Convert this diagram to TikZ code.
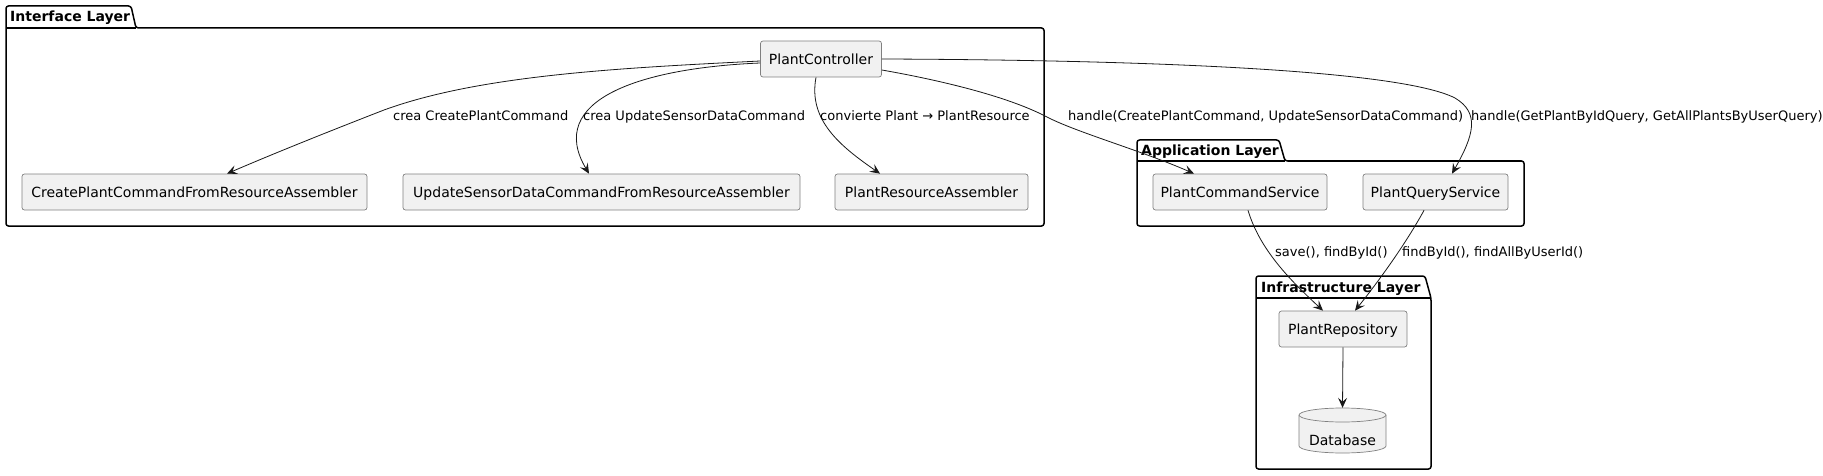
\documentclass[tikz,border=0pt]{standalone}
\usepackage{fontspec}
\setmainfont{DejaVu Sans}
\usetikzlibrary{arrows.meta}
\definecolor{boxfill}{HTML}{F1F1F1}
\definecolor{boxline}{HTML}{181818}
\begin{document}
\begin{tikzpicture}[x=1pt,y=-1pt,
  cls/.style={draw=black!50, line width=0.7pt, fill=boxfill, rounded corners=2.5pt,
    minimum height=36pt, inner sep=0pt, text height=10.2pt, text depth=0pt,
    font=\fontsize{14}{16}\selectfont},
  pkg/.style={draw=black, line width=1.5pt, line join=round, rounded corners=2.5pt},
  pkgline/.style={draw=black, line width=1.5pt},
  pkgtitle/.style={anchor=base west, inner sep=0pt, font=\fontsize{14}{16}\selectfont\bfseries},
  lbl/.style={anchor=west, inner sep=0pt, text height=9.5pt, text depth=0pt,
    font=\fontsize{13}{15}\selectfont},
  rel/.style={draw=boxline, line width=0.8pt, -{Stealth[length=10pt,width=9pt,inset=4pt]}},
  dbpart/.style={draw=black!50, line width=0.7pt, fill=boxfill},
]
\useasboundingbox (0,0) rectangle (1823,476);

% packages
\draw[pkg] (6,226) -- (6,6) -- (131,6) -- (136,28) -- (1044,28) -- (1044,226) -- cycle;
\draw[pkgline] (6,28) -- (136,28);
\node[pkgtitle] (tint) at (10,22) {Interface Layer};

\draw[pkg] (1137,226) -- (1137,140) -- (1279,140) -- (1285,161) -- (1524,161) -- (1524,226) -- cycle;
\draw[pkgline] (1137,161) -- (1285,161);
\node[pkgtitle] (tapp) at (1141,155) {Application Layer};

\draw[pkg] (1256,469) -- (1256,276) -- (1425,276) -- (1431,298) -- (1431,469) -- cycle;
\draw[pkgline] (1256,298) -- (1431,298);
\node[pkgtitle] (tinf) at (1261,292) {Infrastructure Layer};

% classes
\node[cls, minimum width=121pt] (pc) at (821,59) {PlantController};
\node[cls, minimum width=345pt] (cpa) at (194.5,192) {CreatePlantCommandFromResourceAssembler};
\node[cls, minimum width=397pt] (usa) at (601.5,192) {UpdateSensorDataCommandFromResourceAssembler};
\node[cls, minimum width=193pt] (pra) at (931.5,192) {PlantResourceAssembler};
\node[cls, minimum width=174pt] (pcs) at (1240,192) {PlantCommandService};
\node[cls, minimum width=145pt] (pqs) at (1435.5,192) {PlantQueryService};
\node[cls, minimum width=128pt] (pr) at (1343,329) {PlantRepository};

% database cylinder
\fill[boxfill] (1299,415) -- (1299,446) arc[start angle=180, end angle=360, x radius=43.5pt, y radius=7pt] -- (1386,415) -- cycle;
\draw[draw=black!50, line width=0.7pt] (1299,415) -- (1299,446) arc[start angle=180, end angle=360, x radius=43.5pt, y radius=7pt] -- (1386,415);
\draw[dbpart] (1342.5,415) ellipse [x radius=43.5pt, y radius=7pt];
\node[inner sep=0pt, minimum width=87pt, minimum height=45pt] (db) at (1342.5,430.5) {};
\node[inner sep=0pt, text height=10.2pt, text depth=0pt, font=\fontsize{14}{16}\selectfont] (dbt) at (1342.5,440) {Database};

% relations
\draw[rel] ([yshift=-2pt]pc.west) .. controls (620,68) and (480,75) .. (384,110) .. controls (330,131) and (275,153) .. ([xshift=32.5pt]cpa.north);
\draw[rel] ([yshift=-4pt]pc.west) .. controls (640,68) and (545,100) .. ([xshift=-12.5pt]usa.north);
\draw[rel] ([xshift=-5pt]pc.south) .. controls (808,120) and (840,146) .. ([xshift=-51.5pt]pra.north);
\draw[rel] ([yshift=-11pt]pc.east) .. controls (950,82) and (1010,98) .. (1045,116) .. controls (1075,132) and (1140,150) .. ([xshift=-46pt]pcs.north);
\draw[rel] (pc.east) .. controls (1150,60) and (1400,70) .. (1455,98) .. controls (1480,113) and (1474,135) .. ([xshift=16.5pt]pqs.north);
\draw[rel] ([xshift=8pt]pcs.south) .. controls (1260,250) and (1290,280) .. ([xshift=-20pt]pr.north);
\draw[rel] ([xshift=-11.5pt]pqs.south) .. controls (1405,245) and (1378,282) .. ([xshift=12pt]pr.north);
\draw[rel] (pr.south) -- (db.north);

% labels
\node[lbl] (l1) at (393,116) {crea CreatePlantCommand};
\node[lbl] (l2) at (583,116) {crea UpdateSensorDataCommand};
\node[lbl] (l3) at (820,116) {convierte Plant → PlantResource};
\node[lbl] (l4) at (1068,116) {handle(CreatePlantCommand, UpdateSensorDataCommand)};
\node[lbl] (l5) at (1471,116) {handle(GetPlantByIdQuery, GetAllPlantsByUserQuery)};
\node[lbl] (l6) at (1275,252) {save(), findById()};
\node[lbl] (l7) at (1402,252) {findById(), findAllByUserId()};
\end{tikzpicture}
\end{document}
